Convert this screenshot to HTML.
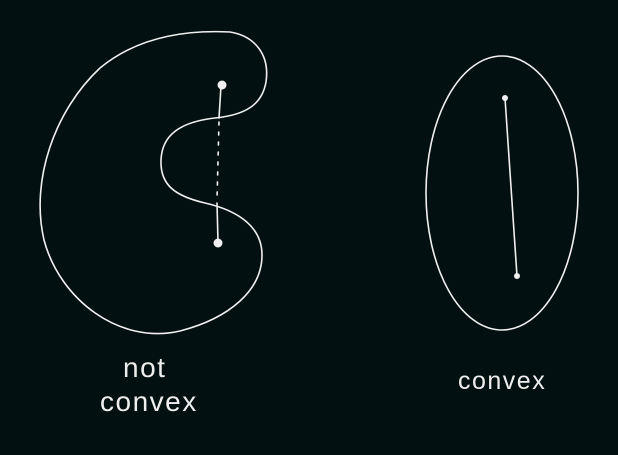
<!DOCTYPE html>
<html>
<head>
<meta charset="utf-8">
<style>
  html,body{margin:0;padding:0;background:#031011;}
  svg{display:block;}
  text{font-family:"Liberation Sans",sans-serif;fill:#eeeeee;}
</style>
</head>
<body>
<svg width="618" height="455" viewBox="0 0 618 455" xmlns="http://www.w3.org/2000/svg">
  <rect width="618" height="455" fill="#031011"/>
  <g fill="none" stroke="#f0f0f0" stroke-width="1.6" stroke-linecap="round" stroke-linejoin="round">
    <path
      d="M230,32 C255,36 270,55 266,82 C262,105 245,115 215,118 C180,122 162,135 161,160 C160,185 175,196 205,203 C240,211 262,228 262,255 C262,290 230,318 180,331 C120,345 60,300 44,240 C30,180 55,110 100,68 C140,35 190,30 230,32 Z"/>
    <ellipse cx="502" cy="193" rx="76" ry="137"/>
    <path d="M505,98 L517,276"/>
    <path d="M221,86 L219,118"/>
    <path d="M219,122 L217,200" stroke-dasharray="3,7"/>
    <path d="M217,203 L218,242"/>
  </g>
  <g fill="#f0f0f0">
    <circle cx="222" cy="85" r="4.5"/>
    <circle cx="218" cy="243" r="4.5"/>
    <circle cx="505" cy="98" r="3"/>
    <circle cx="517" cy="276" r="3"/>
  </g>
  <text x="123" y="377" font-size="28" letter-spacing="1.5">not</text>
  <text x="100" y="411" font-size="28" letter-spacing="1.5">convex</text>
  <text x="458" y="389" font-size="25" letter-spacing="1.5">convex</text>
</svg>
</body>
</html>
